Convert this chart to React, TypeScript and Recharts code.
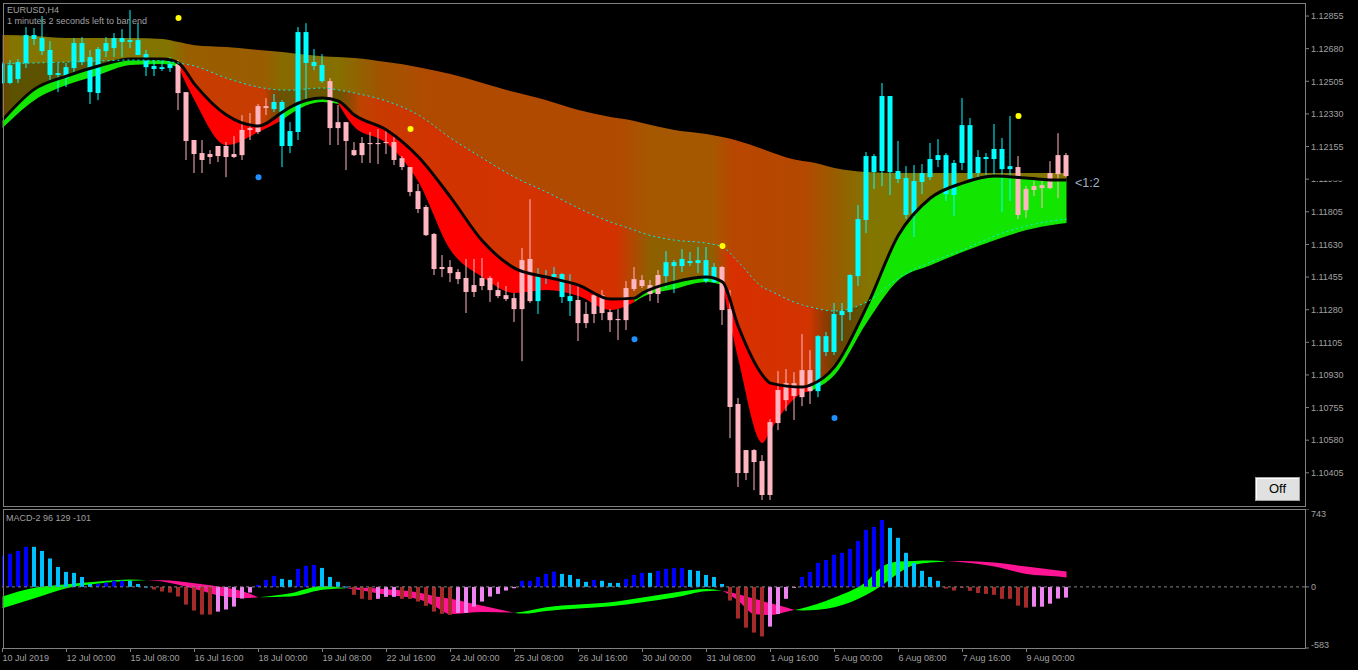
import React from 'react';
import { ComposedChart, Bar, Line, Area, Scatter, XAxis, YAxis, ReferenceLine } from 'recharts';

// ---------------- price candles (H4 bars, index 0..133) ----------------
const candleOpen = [
  1.12496, 1.12496, 1.12517, 1.12603, 1.12732, 1.12667, 1.12539, 1.12539, 1.12522, 1.12576,
  1.12608, 1.12447, 1.12442, 1.12667, 1.12683, 1.12716, 1.12716, 1.12646, 1.12581, 1.12571,
  1.12571, 1.12576, 1.12598, 1.12447, 1.12190, 1.12120, 1.12115, 1.12158, 1.12158, 1.12115,
  1.12244, 1.12254, 1.12372, 1.12372, 1.12356, 1.12158, 1.12158, 1.12233, 1.12603, 1.12587,
  1.12506, 1.12506, 1.12286, 1.12286, 1.12136, 1.12174, 1.12174, 1.12174, 1.12179, 1.12179,
  1.12093, 1.12045, 1.11916, 1.11831, 1.11686, 1.11509, 1.11509, 1.11482, 1.11450, 1.11412,
  1.11450, 1.11450, 1.11385, 1.11358, 1.11342, 1.11546, 1.11552, 1.11326, 1.11455, 1.11455,
  1.11348, 1.11326, 1.11332, 1.11257, 1.11358, 1.11358, 1.11267, 1.11230, 1.11396, 1.11444,
  1.11439, 1.11412, 1.11466, 1.11460, 1.11514, 1.11514, 1.11530, 1.11530, 1.11434, 1.11428,
  1.11509, 1.11283, 1.10774, 1.10527, 1.10527, 1.10468, 1.10677, 1.10849, 1.10886, 1.10886,
  1.10956, 1.10956, 1.10843, 1.11053, 1.11053, 1.11251, 1.11267, 1.11460, 1.11761, 1.12018,
  1.12024, 1.12018, 1.11981, 1.11788, 1.11788, 1.11965, 1.11991, 1.12083, 1.11900, 1.11895,
  1.12067, 1.11981, 1.12013, 1.12088, 1.12088, 1.12034, 1.12034, 1.12045, 1.11927, 1.11943,
  1.11948, 1.12013, 1.12109, 1.12109,
];
const candleHigh = [
  1.12608, 1.12619, 1.12624, 1.12796, 1.12791, 1.12855, 1.12721, 1.12603, 1.12603, 1.12737,
  1.12742, 1.12673, 1.12689, 1.12742, 1.12764, 1.12785, 1.12887, 1.12817, 1.12673, 1.12624,
  1.12624, 1.12635, 1.12619, 1.12447, 1.12190, 1.12190, 1.12136, 1.12158, 1.12179, 1.12211,
  1.12324, 1.12335, 1.12383, 1.12415, 1.12437, 1.12404, 1.12286, 1.12796, 1.12817, 1.12678,
  1.12651, 1.12522, 1.12378, 1.12286, 1.12179, 1.12206, 1.12233, 1.12249, 1.12249, 1.12206,
  1.12104, 1.12045, 1.11954, 1.11841, 1.11691, 1.11573, 1.11546, 1.11498, 1.11552, 1.11552,
  1.11557, 1.11460, 1.11428, 1.11407, 1.11369, 1.11611, 1.11873, 1.11503, 1.11493, 1.11509,
  1.11476, 1.11471, 1.11412, 1.11321, 1.11375, 1.11385, 1.11283, 1.11283, 1.11434, 1.11509,
  1.11466, 1.11439, 1.11493, 1.11594, 1.11546, 1.11605, 1.11589, 1.11616, 1.11616, 1.11530,
  1.11514, 1.11385, 1.10806, 1.10527, 1.10532, 1.10500, 1.10693, 1.10951, 1.10962, 1.10945,
  1.11149, 1.11063, 1.11144, 1.11160, 1.11316, 1.11316, 1.11471, 1.11841, 1.12126, 1.12115,
  1.12496, 1.12426, 1.12185, 1.12050, 1.12056, 1.12061, 1.12174, 1.12195, 1.12120, 1.12083,
  1.12415, 1.12308, 1.12136, 1.12120, 1.12276, 1.12201, 1.12319, 1.12104, 1.11943, 1.11970,
  1.11981, 1.12077, 1.12227, 1.12120,
];
const candleLow = [
  1.12490, 1.12490, 1.12496, 1.12576, 1.12699, 1.12646, 1.12496, 1.12447, 1.12474, 1.12549,
  1.12592, 1.12383, 1.12404, 1.12635, 1.12635, 1.12635, 1.12683, 1.12646, 1.12533, 1.12533,
  1.12560, 1.12555, 1.12351, 1.12083, 1.12013, 1.12013, 1.12061, 1.12072, 1.11991, 1.12093,
  1.12083, 1.12190, 1.12222, 1.12324, 1.12340, 1.12045, 1.12120, 1.12190, 1.12394, 1.12565,
  1.12496, 1.12163, 1.12163, 1.12029, 1.12104, 1.12067, 1.12067, 1.12061, 1.12115, 1.12056,
  1.12029, 1.11889, 1.11798, 1.11675, 1.11466, 1.11455, 1.11428, 1.11417, 1.11262, 1.11348,
  1.11385, 1.11321, 1.11342, 1.11326, 1.11214, 1.11004, 1.11316, 1.11257, 1.11417, 1.11444,
  1.11316, 1.11246, 1.11112, 1.11181, 1.11208, 1.11224, 1.11160, 1.11117, 1.11171, 1.11380,
  1.11396, 1.11326, 1.11316, 1.11396, 1.11369, 1.11482, 1.11514, 1.11476, 1.11423, 1.11423,
  1.11198, 1.10591, 1.10329, 1.10366, 1.10312, 1.10259, 1.10259, 1.10634, 1.10736, 1.10688,
  1.10763, 1.10774, 1.10811, 1.11031, 1.11037, 1.11112, 1.11224, 1.11407, 1.11691, 1.11927,
  1.11943, 1.11895, 1.11959, 1.11766, 1.11670, 1.11900, 1.11975, 1.12045, 1.11863, 1.11782,
  1.12029, 1.11965, 1.11986, 1.12002, 1.12002, 1.11804, 1.11863, 1.11766, 1.11771, 1.11889,
  1.11825, 1.11927, 1.11879, 1.11991,
];
const candleClose = [
  1.12598, 1.12592, 1.12608, 1.12753, 1.12753, 1.12737, 1.12673, 1.12549, 1.12581, 1.12710,
  1.12710, 1.12635, 1.12678, 1.12710, 1.12737, 1.12737, 1.12726, 1.12726, 1.12651, 1.12587,
  1.12581, 1.12598, 1.12442, 1.12185, 1.12115, 1.12083, 1.12099, 1.12104, 1.12099, 1.12099,
  1.12109, 1.12244, 1.12233, 1.12362, 1.12394, 1.12394, 1.12238, 1.12769, 1.12769, 1.12608,
  1.12592, 1.12254, 1.12254, 1.12185, 1.12109, 1.12109, 1.12168, 1.12168, 1.12174, 1.12083,
  1.12045, 1.11911, 1.11820, 1.11680, 1.11498, 1.11498, 1.11476, 1.11444, 1.11375, 1.11375,
  1.11407, 1.11385, 1.11353, 1.11337, 1.11283, 1.11283, 1.11326, 1.11460, 1.11460, 1.11471,
  1.11471, 1.11353, 1.11208, 1.11208, 1.11257, 1.11262, 1.11224, 1.11224, 1.11224, 1.11391,
  1.11407, 1.11364, 1.11364, 1.11535, 1.11535, 1.11552, 1.11541, 1.11546, 1.11546, 1.11509,
  1.11278, 1.10758, 1.10404, 1.10404, 1.10463, 1.10286, 1.10286, 1.10672, 1.10795, 1.10817,
  1.10811, 1.10843, 1.11138, 1.11138, 1.11257, 1.11273, 1.11466, 1.11766, 1.12104, 1.12104,
  1.12426, 1.12426, 1.12024, 1.11986, 1.11970, 1.12013, 1.12088, 1.12109, 1.12109, 1.12067,
  1.12270, 1.12270, 1.12099, 1.12099, 1.12142, 1.12142, 1.12050, 1.11788, 1.11814, 1.11922,
  1.11932, 1.11932, 1.12007, 1.11997,
];

// ---------------- moving-average ribbon (sampled bars) ----------------
const ribbonBar = [0, 4, 8, 12, 16, 20, 22, 24, 28, 32, 35, 36, 40, 42, 44, 48, 52, 56, 60, 64, 68, 72, 76, 79, 80, 84, 88, 90, 92, 95, 96, 100, 101, 104, 108, 112, 116, 120, 124, 128, 132, 133];
const ribbonTop = [
  1.12753, 1.12748, 1.12737, 1.12737, 1.12737, 1.12732, 1.12716, 1.12699, 1.12689, 1.12673,
  1.12662, 1.12657, 1.12640, 1.12635, 1.12630, 1.12608, 1.12581, 1.12544, 1.12496, 1.12447,
  1.12404, 1.12351, 1.12313, 1.12292, 1.12281, 1.12244, 1.12222, 1.12206, 1.12185, 1.12142,
  1.12126, 1.12077, 1.12072, 1.12040, 1.12018, 1.12013, 1.12013, 1.12013, 1.12013, 1.12013,
  1.12013, 1.12013,
];
const ribbonBlack = [
  1.12297, 1.12463, 1.12533, 1.12587, 1.12624, 1.12624, 1.12603, 1.12490, 1.12324, 1.12265,
  1.12340, 1.12367, 1.12415, 1.12399, 1.12324, 1.12244, 1.12099, 1.11884, 1.11648, 1.11503,
  1.11455, 1.11412, 1.11337, 1.11342, 1.11369, 1.11428, 1.11455, 1.11428, 1.11187, 1.10929,
  1.10886, 1.10865, 1.10876, 1.10973, 1.11294, 1.11680, 1.11879, 1.11959, 1.11997, 1.11986,
  1.11975, 1.11975,
];
const ribbonEdge = [
  1.12254, 1.12404, 1.12485, 1.12539, 1.12592, 1.12598, 1.12581, 1.12404, 1.12163, 1.12233,
  1.12297, 1.12329, 1.12394, 1.12383, 1.12260, 1.12174, 1.11965, 1.11600, 1.11455, 1.11369,
  1.11385, 1.11353, 1.11278, 1.11321, 1.11348, 1.11391, 1.11428, 1.11412, 1.11010, 1.10565,
  1.10634, 1.10833, 1.10843, 1.10929, 1.11208, 1.11439, 1.11519, 1.11589, 1.11653, 1.11707,
  1.11739, 1.11745,
];
const ribbonDotted = [
  1.12598, 1.12603, 1.12608, 1.12614, 1.12619, 1.12614, 1.12603, 1.12587, 1.12522, 1.12474,
  1.12458, 1.12458, 1.12469, 1.12458, 1.12442, 1.12399, 1.12324, 1.12201, 1.12093, 1.11991,
  1.11911, 1.11825, 1.11750, 1.11707, 1.11691, 1.11653, 1.11637, 1.11616, 1.11535, 1.11401,
  1.11380, 1.11305, 1.11294, 1.11273, 1.11321, 1.11450, 1.11535, 1.11600, 1.11675, 1.11729,
  1.11761, 1.11766,
];
// trend of each ribbon segment: G = up (green), R = down (red)
const ribbonTrend = 'GGGGGG' + 'RRRR' + 'GGG' + 'RRRRRRRRRR' + 'GGGG' + 'RRRRR' + 'GGGGGGGGGG';

// ---------------- signal dots ----------------
const upSignalBar = [22, 51, 90, 127];
const upSignalPrice = [1.12844, 1.12249, 1.11621, 1.12319];
const downSignalBar = [32, 79, 104];
const downSignalPrice = [1.11991, 1.11122, 1.10699];

// ---------------- MACD sub-window ----------------
const macdHist = [
  299, 315, 343, 382, 382, 343, 271, 190, 143, 134,
  95, 28, 28, 41, 58, 58, 58, 28, 3, -25,
  -44, -54, -92, -169, -226, -264, -264, -236, -216, -188,
  -111, -54, 19, 67, 105, 76, 67, 172, 201, 210,
  181, 95, 48, 3, -76, -114, -124, -114, -95, -95,
  -114, -114, -140, -181, -236, -257, -267, -248, -248, -188,
  -140, -92, -67, -35, -13, 58, 58, 95, 124, 146,
  124, 114, 76, 48, 67, 58, 38, 38, 76, 114,
  134, 134, 153, 172, 181, 181, 162, 153, 114, 95,
  28, -130, -302, -389, -436, -473, -379, -259, -114, -7,
  95, 143, 229, 257, 306, 324, 363, 439, 544, 572,
  639, 563, 468, 325, 229, 153, 95, 58, -16, -35,
  -3, -38, -58, -67, -76, -114, -114, -179, -198, -189,
  -189, -160, -111, -102,
];
// B = rising above zero, S = falling above zero, R = falling below zero, V = rising below zero
const macdHistState = [
  'BBBB', 'SSSSSSSS', 'BBBB', 'SSS', 'RRRRRRRR', 'VVVVV', 'BBB', 'SS', 'BBB', 'SSSS',
  'RRR', 'VVV', 'RRRRRRR', 'VVVVVVVV', 'BBBBB', 'SSSS', 'B', 'SSS', 'BBB', 'S',
  'BBBB', 'SSSSS', 'RRRRR', 'VVVV', 'BBBBBBBBBBB', 'SSSSSSS', 'RRRRRRRRRRR', 'VVVVV',
].join('');
const macdLineBar = [0, 4, 8, 12, 16, 18, 20, 24, 28, 30, 32, 36, 40, 43, 44, 48, 52, 54, 56, 60, 64, 65, 68, 72, 76, 80, 84, 88, 90, 92, 94, 96, 98, 99, 100, 104, 108, 110, 112, 114, 116, 118, 120, 124, 128, 132, 133];
const macdFast = [
  -92, -9, 25, 51, 70, 64, 51, -19, -95, -108,
  -99, -60, 9, -12, -22, -76, -118, -184, -259, -239,
  -246, -236, -194, -169, -146, -102, -54, -21, -38, -134,
  -260, -267, -236, -220, -204, -102, 51, 194, 241, 248,
  251, 243, 236, 194, 124, 98, 89,
];
const macdSlow = [
  -204, -108, -12, 32, 58, 64, 64, 35, -9, -42,
  -99, -92, -28, -12, -7, -22, -54, -89, -113, -181,
  -246, -255, -229, -207, -184, -146, -102, -41, -38, -70,
  -114, -156, -197, -220, -225, -194, -76, 19, 131, 210,
  232, 243, 248, 232, 194, 156, 146,
];

// ---------------- axes ----------------
const priceTicks = [1.12855, 1.1268, 1.12505, 1.1233, 1.12155, 1.1198, 1.11805, 1.1163, 1.11455, 1.1128, 1.11105, 1.1093, 1.10755, 1.1058, 1.10405];
const hiddenPriceTick = 1.1198;
const timeTickBars = [0, 8, 16, 24, 32, 40, 48, 56, 64, 72, 80, 88, 96, 104, 112, 120, 128];
const timeTickLabels = ['10 Jul 2019', '12 Jul 00:00', '15 Jul 08:00', '16 Jul 16:00', '18 Jul 00:00', '19 Jul 08:00', '22 Jul 16:00', '24 Jul 00:00', '25 Jul 08:00', '26 Jul 16:00', '30 Jul 00:00', '31 Jul 08:00', '1 Aug 16:00', '5 Aug 00:00', '6 Aug 08:00', '7 Aug 16:00', '9 Aug 00:00'];
const macdTicks = [743, 0, -583];

// ---------------- styles ----------------
const FONT = "'Liberation Sans', Arial, sans-serif";
const TXT = '#a0a0a0';
const FRAME = '#808080';
const X_DOMAIN: [number, number] = [-0.0625, 162.8125];
const Y_DOMAIN: [number, number] = [1.10227, 1.12925];
const HIST_COLORS: Record<string, string> = { B: '#0000ff', S: '#00bfff', R: '#a52a2a', V: '#ee82ee' };

const outerStops: [number, string][] = [
  [0, '#9c5a00'], [12, '#837500'], [170, '#837300'], [188, '#985e00'], [262, '#9a5c00'],
  [282, '#876a00'], [338, '#857000'], [380, '#a05400'], [430, '#b04a00'], [620, '#b04a00'],
  [650, '#a65800'], [712, '#a65800'], [735, '#b84600'], [805, '#b44800'], [840, '#946000'],
  [870, '#827600'], [1080, '#827600'],
];
const innerStops: [number, string, number][] = [
  [0, '#000000', 0.3], [172, '#000000', 0.3], [185, '#ff1400', 0.45], [265, '#ff1400', 0.45],
  [282, '#000000', 0.22], [335, '#000000', 0.22], [360, '#ff1400', 0.4], [615, '#ff1400', 0.45],
  [650, '#706a00', 0.45], [712, '#706a00', 0.45], [730, '#ff1400', 0.45], [810, '#ff1400', 0.4],
  [835, '#000000', 0.3], [1080, '#000000', 0.2],
];

const Candle = (props: any) => {
  const { x, y, width, height, payload } = props;
  if (x == null || y == null || !payload) return null;
  const cx = x + width / 2;
  const top = Math.min(y, y + height);
  const h = Math.abs(height);
  const span = payload.h - payload.l;
  const py = (v: number) => (span > 0 ? top + ((payload.h - v) / span) * h : top);
  const bTop = py(Math.max(payload.o, payload.c));
  const bBot = py(Math.min(payload.o, payload.c));
  const color = payload.c >= payload.o ? '#00ffff' : '#ffb6c1';
  return (
    <g>
      <rect x={cx - 0.5} y={top} width={1} height={Math.max(h, 1)} fill={color} />
      <rect x={cx - 2.5} y={bTop} width={5} height={Math.max(bBot - bTop, 1)} fill={color} />
    </g>
  );
};

const HistBar = (props: any) => {
  const { x, y, width, height, payload } = props;
  if (x == null || y == null || !payload) return null;
  const cx = x + width / 2;
  const top = Math.min(y, y + height);
  const h = Math.max(Math.abs(height), 1);
  return <rect x={Math.floor(cx - 2)} y={top} width={4} height={h} fill={payload.col} />;
};

const PriceTick = (props: any) => {
  const { x, y, payload } = props;
  const v = payload.value as number;
  const label = v.toFixed(5);
  if (Math.abs(v - hiddenPriceTick) < 1e-7) {
    return (
      <g>
        <clipPath id="hiddenTickClip">
          <rect x={x} y={y + 1.2} width={50} height={4} />
        </clipPath>
        <text x={x} y={y + 3.3} fill={TXT} fontSize={9} fontFamily={FONT} clipPath="url(#hiddenTickClip)">{label}</text>
      </g>
    );
  }
  return <text x={x} y={y + 3.3} fill={TXT} fontSize={9} fontFamily={FONT}>{label}</text>;
};

const MacdTick = (props: any) => {
  const { x, y, payload } = props;
  const v = payload.value as number;
  const dy = v === 743 ? 7.5 : v === -583 ? -0.5 : 3.3;
  return <text x={x} y={y + dy} fill={TXT} fontSize={9} fontFamily={FONT}>{String(v)}</text>;
};

const TimeTick = (props: any) => {
  const { x, y, payload } = props;
  const idx = timeTickBars.indexOf(payload.value);
  return <text x={x} y={y + 9} fill={TXT} fontSize={9} fontFamily={FONT} textAnchor="start">{timeTickLabels[idx] ?? ''}</text>;
};

export default function App() {
  const candles = candleOpen.map((o, i) => ({
    k: i, o, h: candleHigh[i], l: candleLow[i], c: candleClose[i], r: [candleLow[i], candleHigh[i]],
  }));

  const ribbon = ribbonBar.map((k, i) => {
    const z = ribbonTrend[i];
    const zp = i > 0 ? ribbonTrend[i - 1] : z;
    const seg = [ribbonEdge[i], ribbonBlack[i]];
    return {
      k,
      blk: ribbonBlack[i],
      dot: ribbonDotted[i],
      outer: [ribbonBlack[i], ribbonTop[i]],
      inner: [ribbonDotted[i], ribbonBlack[i]],
      green: z === 'G' || zp === 'G' ? seg : null,
      red: z === 'R' || zp === 'R' ? seg : null,
    };
  });

  const upDots = upSignalBar.map((k, i) => ({ k, p: upSignalPrice[i] }));
  const downDots = downSignalBar.map((k, i) => ({ k, p: downSignalPrice[i] }));

  const hist = macdHist.map((v, i) => ({ k: i, v, col: HIST_COLORS[macdHistState[i]] }));
  const macdBand = macdLineBar.map((k, i) => {
    const a = macdFast[i];
    const b = macdSlow[i];
    return {
      k,
      g: a >= b ? [b, a] : null,
      p: a <= b ? [a, b] : null,
    };
  });

  return (
    <div style={{ position: 'fixed', left: 0, top: 0, width: 1358, height: 670, background: '#000', overflow: 'hidden', fontFamily: FONT }}>
      <div style={{ position: 'absolute', left: 0, top: 0 }}>
        <ComposedChart width={1358} height={510} data={candles} margin={{ top: 3, right: 0, bottom: 4, left: 2 }}>
          <defs>
            <linearGradient id="outerGrad" gradientUnits="userSpaceOnUse" x1={0} y1={0} x2={1358} y2={0}>
              {outerStops.map(([px, col], i) => (
                <stop key={i} offset={px / 1358} stopColor={col} />
              ))}
            </linearGradient>
            <linearGradient id="innerGrad" gradientUnits="userSpaceOnUse" x1={0} y1={0} x2={1358} y2={0}>
              {innerStops.map(([px, col, op], i) => (
                <stop key={i} offset={px / 1358} stopColor={col} stopOpacity={op} />
              ))}
            </linearGradient>
          </defs>
          <XAxis type="number" dataKey="k" domain={X_DOMAIN} allowDataOverflow hide />
          <YAxis
            type="number"
            orientation="right"
            width={53}
            domain={Y_DOMAIN}
            allowDataOverflow
            ticks={priceTicks}
            interval={0}
            tickSize={4}
            tickMargin={2}
            axisLine={false}
            tickLine={{ stroke: FRAME }}
            tick={(p: any) => <PriceTick {...p} />}
          />
          <Area data={ribbon} dataKey="outer" type="monotone" stroke="none" fill="url(#outerGrad)" fillOpacity={1} isAnimationActive={false} dot={false} activeDot={false} />
          <Area data={ribbon} dataKey="inner" type="monotone" stroke="none" fill="url(#innerGrad)" fillOpacity={1} isAnimationActive={false} dot={false} activeDot={false} />
          <Area data={ribbon} dataKey="red" type="monotone" stroke="none" fill="#ff0000" fillOpacity={1} connectNulls={false} isAnimationActive={false} dot={false} activeDot={false} />
          <Area data={ribbon} dataKey="green" type="monotone" stroke="none" fill="#12e600" fillOpacity={1} connectNulls={false} isAnimationActive={false} dot={false} activeDot={false} />
          <Line data={ribbon} dataKey="blk" type="monotone" stroke="#050505" strokeWidth={3} dot={false} activeDot={false} isAnimationActive={false} />
          <Line data={ribbon} dataKey="dot" type="monotone" stroke="#00f0f0" strokeWidth={1} strokeDasharray="2 3" dot={false} activeDot={false} isAnimationActive={false} />
          <Bar dataKey="r" barSize={5} shape={(p: any) => <Candle {...p} />} isAnimationActive={false} />
          <Scatter data={upDots} dataKey="p" fill="#ffff00" shape={(p: any) => <circle cx={p.cx} cy={p.cy} r={3} fill="#ffff00" />} isAnimationActive={false} />
          <Scatter data={downDots} dataKey="p" fill="#1e90ff" shape={(p: any) => <circle cx={p.cx} cy={p.cy} r={3} fill="#1e90ff" />} isAnimationActive={false} />
        </ComposedChart>
      </div>

      <div style={{ position: 'absolute', left: 0, top: 509 }}>
        <ComposedChart width={1358} height={161} data={hist} margin={{ top: 0, right: 0, bottom: 0, left: 2 }}>
          <XAxis
            type="number"
            dataKey="k"
            domain={X_DOMAIN}
            allowDataOverflow
            ticks={timeTickBars}
            interval={0}
            height={22}
            tickSize={4}
            tickMargin={0}
            axisLine={false}
            tickLine={{ stroke: FRAME }}
            tick={(p: any) => <TimeTick {...p} />}
          />
          <YAxis
            type="number"
            orientation="right"
            width={53}
            domain={[-583, 743]}
            allowDataOverflow
            ticks={macdTicks}
            interval={0}
            tickSize={4}
            tickMargin={2}
            axisLine={false}
            tickLine={{ stroke: FRAME }}
            tick={(p: any) => <MacdTick {...p} />}
          />
          <ReferenceLine y={0} stroke={FRAME} strokeDasharray="3 3" />
          <Area data={macdBand} dataKey="g" type="monotone" stroke="none" fill="#00ff00" fillOpacity={1} connectNulls={false} isAnimationActive={false} dot={false} activeDot={false} />
          <Area data={macdBand} dataKey="p" type="monotone" stroke="none" fill="#ff1493" fillOpacity={1} connectNulls={false} isAnimationActive={false} dot={false} activeDot={false} />
          <Bar dataKey="v" barSize={4} shape={(p: any) => <HistBar {...p} />} isAnimationActive={false} />
        </ComposedChart>
      </div>

      <svg width={1358} height={670} style={{ position: 'absolute', left: 0, top: 0, pointerEvents: 'none' }}>
        <rect x={3.5} y={3.5} width={1302} height={503} fill="none" stroke={FRAME} strokeWidth={1} />
        <rect x={3.5} y={509.5} width={1302} height={139} fill="none" stroke={FRAME} strokeWidth={1} />
        <text x={7} y={12.5} fill={TXT} fontSize={9} fontFamily={FONT}>EURUSD,H4</text>
        <text x={7} y={24} fill={TXT} fontSize={9} fontFamily={FONT}>1 minutes 2 seconds left to bar end</text>
        <text x={6} y={521} fill={TXT} fontSize={9} fontFamily={FONT}>MACD-2 96 129 -101</text>
        <text x={1075} y={186.5} fill="#9fb2c4" fontSize={12.5} fontFamily={FONT}>&lt;1:2</text>
        <g>
          <rect x={1255.5} y={477.5} width={44} height={23} fill="#e1e1e1" stroke="#a0a0a0" strokeWidth={1} />
          <line x1={1256.5} y1={478.5} x2={1298.5} y2={478.5} stroke="#ffffff" />
          <line x1={1256.5} y1={478.5} x2={1256.5} y2={499.5} stroke="#ffffff" />
          <text x={1277.5} y={492.7} fill="#000" fontSize={13} fontFamily={FONT} textAnchor="middle">Off</text>
        </g>
      </svg>
    </div>
  );
}
